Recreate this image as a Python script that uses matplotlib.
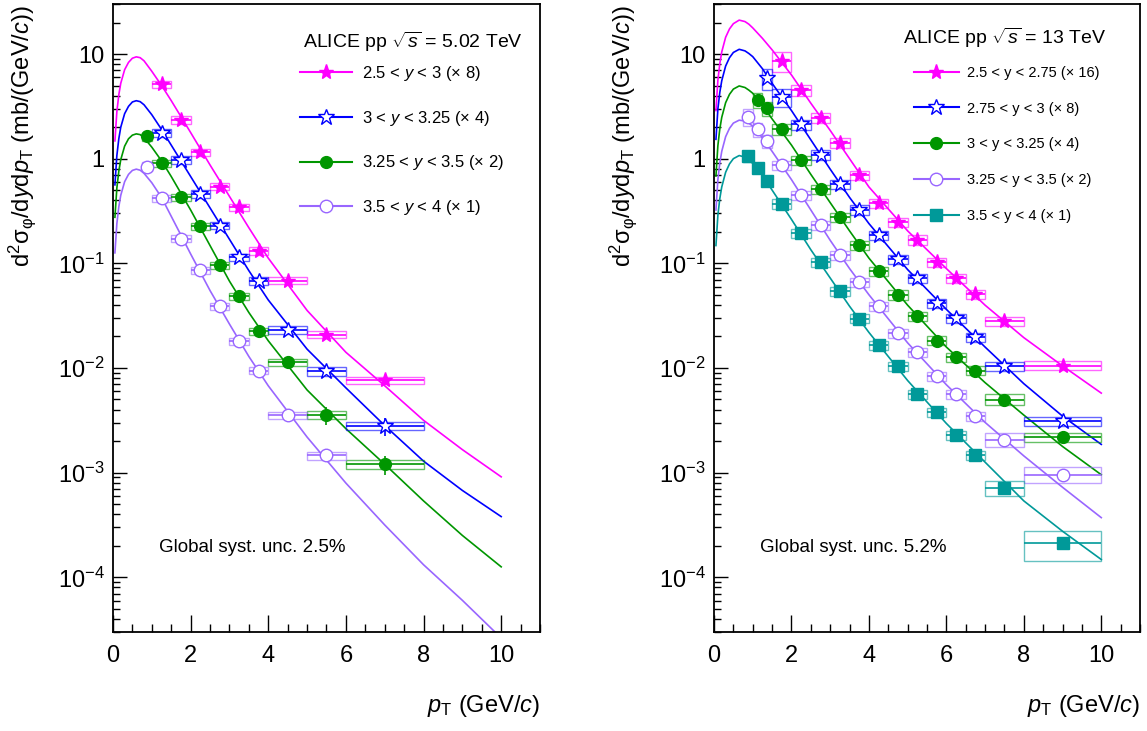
import numpy as np
import matplotlib
matplotlib.use('Agg')
import matplotlib.pyplot as plt
from matplotlib.patches import Rectangle
from matplotlib.lines import Line2D
from matplotlib.ticker import MultipleLocator, FixedLocator, FuncFormatter, NullFormatter

plt.rcParams['font.family'] = ['Liberation Sans', 'DejaVu Sans']
plt.rcParams['mathtext.fontset'] = 'custom'
plt.rcParams['mathtext.rm'] = 'Liberation Sans'
plt.rcParams['mathtext.it'] = 'Liberation Sans:italic'
plt.rcParams['mathtext.bf'] = 'Liberation Sans:bold'

# ---------------- pp 5.02 TeV (already scaled) ----------------
edges_502_hi = [1.0, 1.5, 2.0, 2.5, 3.0, 3.5, 4.0, 5.0, 6.0, 8.0]
edges_502_g = [0.75, 1.0, 1.5, 2.0, 2.5, 3.0, 3.5, 4.0, 5.0, 6.0, 8.0]
edges_502_p = [0.75, 1.0, 1.5, 2.0, 2.5, 3.0, 3.5, 4.0, 5.0, 6.0]

y502_mag = [5.14, 2.35, 1.15, 0.542, 0.344, 0.132, 0.0683, 0.0208, 0.00763]
y502_blue = [1.77, 0.975, 0.461, 0.229, 0.114, 0.0682, 0.0232, 0.0093, 0.00278]
y502_green = [1.63, 0.906, 0.43, 0.225, 0.0955, 0.0483, 0.0224, 0.01134, 0.00354, 0.0012]
y502_purple = [0.84, 0.42, 0.172, 0.0856, 0.0388, 0.018, 0.00944, 0.00354, 0.00146]

stat502_mag = [0.02, 0.02, 0.02, 0.03, 0.03, 0.04, 0.04, 0.06, 0.10]
stat502_blue = [0.03, 0.03, 0.03, 0.04, 0.04, 0.05, 0.06, 0.08, 0.20]
stat502_green = [0.03, 0.03, 0.03, 0.03, 0.04, 0.04, 0.05, 0.06, 0.20, 0.20]
stat502_purple = [0.03, 0.03, 0.03, 0.04, 0.04, 0.05, 0.06, 0.08, 0.12]

syst502_mag = [0.08, 0.08, 0.08, 0.08, 0.08, 0.08, 0.08, 0.08, 0.08]
syst502_blue = [0.08, 0.08, 0.08, 0.08, 0.08, 0.08, 0.09, 0.09, 0.09]
syst502_green = [0.09, 0.08, 0.08, 0.08, 0.08, 0.08, 0.08, 0.08, 0.09, 0.09]
syst502_purple = [0.10, 0.08, 0.08, 0.08, 0.08, 0.08, 0.08, 0.08, 0.09]

# fit curves, log10 values
fitpt_502 = [0.05, 0.1, 0.15, 0.2, 0.3, 0.4, 0.5, 0.6, 0.7, 0.8, 1.0, 1.25, 1.5,
             2.0, 2.5, 3.0, 3.5, 4.0, 5.0, 6.0, 7.0, 8.0, 9.0, 10.0]
fit502_mag = [0.17, 0.45, 0.61, 0.72, 0.85, 0.92, 0.96, 0.973, 0.965, 0.935, 0.835, 0.70, 0.555,
              0.25, -0.06, -0.36, -0.66, -0.95, -1.45, -1.85, -2.17, -2.50, -2.78, -3.04]
fit502_blue = [-0.25, 0.03, 0.19, 0.30, 0.43, 0.50, 0.542, 0.554, 0.545, 0.515, 0.42, 0.28, 0.13,
               -0.17, -0.47, -0.77, -1.07, -1.35, -1.82, -2.19, -2.55, -2.89, -3.17, -3.42]
fit502_green = [-0.56, -0.28, -0.12, -0.01, 0.12, 0.19, 0.225, 0.237, 0.23, 0.20, 0.11, -0.02, -0.17,
                 -0.49, -0.83, -1.17, -1.47, -1.74, -2.21, -2.58, -2.92, -3.27, -3.60, -3.90]
fit502_purple = [-0.90, -0.62, -0.46, -0.35, -0.22, -0.15, -0.112, -0.10, -0.11, -0.14, -0.23, -0.37, -0.55,
                 -0.91, -1.26, -1.58, -1.89, -2.17, -2.66, -3.10, -3.50, -3.88, -4.22, -4.58]

labels_502 = [r'2.5 < $y$ < 3 (× 8)', r'3 < $y$ < 3.25 (× 4)',
              r'3.25 < $y$ < 3.5 (× 2)', r'3.5 < $y$ < 4 (× 1)']

# ---------------- pp 13 TeV (already scaled) ----------------
edges_13_m = [1.5, 2.0, 2.5, 3.0, 3.5, 4.0, 4.5, 5.0, 5.5, 6.0, 6.5, 7.0, 8.0, 10.0]
edges_13_b = [1.25, 1.5, 2.0, 2.5, 3.0, 3.5, 4.0, 4.5, 5.0, 5.5, 6.0, 6.5, 7.0, 8.0, 10.0]
edges_13_g = [1.0, 1.25, 1.5, 2.0, 2.5, 3.0, 3.5, 4.0, 4.5, 5.0, 5.5, 6.0, 6.5, 7.0, 8.0, 10.0]
edges_13_p = [0.75, 1.0, 1.25, 1.5, 2.0, 2.5, 3.0, 3.5, 4.0, 4.5, 5.0, 5.5, 6.0, 6.5, 7.0, 8.0, 10.0]

y13_mag = [8.58, 4.53, 2.47, 1.41, 0.70, 0.376, 0.248, 0.168, 0.102, 0.0724, 0.0509, 0.0279, 0.01054]
y13_blue = [5.86, 3.86, 2.13, 1.09, 0.571, 0.325, 0.185, 0.11, 0.072, 0.0418, 0.030, 0.0196, 0.0104, 0.0031]
y13_green = [3.64, 3.03, 1.91, 0.975, 0.512, 0.277, 0.150, 0.0837, 0.0501, 0.0311, 0.0183, 0.01265,
             0.00944, 0.00499, 0.00218]
y13_purple = [2.52, 1.91, 1.48, 0.873, 0.445, 0.233, 0.119, 0.0657, 0.0388, 0.0216, 0.0142, 0.00834,
              0.00566, 0.00346, 0.00207, 0.00096]
y13_teal = [1.06, 0.812, 0.618, 0.371, 0.195, 0.102, 0.054, 0.0296, 0.0165, 0.0104, 0.00566, 0.00378,
            0.00227, 0.00147, 0.000718, 0.000211]

stat13_mag = [0.03, 0.02, 0.02, 0.02, 0.02, 0.02, 0.02, 0.03, 0.03, 0.03, 0.04, 0.04, 0.06]
stat13_blue = [0.04, 0.03, 0.02, 0.02, 0.02, 0.02, 0.02, 0.03, 0.03, 0.03, 0.04, 0.04, 0.05, 0.08]
stat13_green = [0.03, 0.03, 0.02, 0.02, 0.02, 0.02, 0.02, 0.03, 0.03, 0.03, 0.04, 0.04, 0.05, 0.05, 0.07]
stat13_purple = [0.03, 0.03, 0.02, 0.02, 0.02, 0.02, 0.02, 0.03, 0.03, 0.03, 0.04, 0.04, 0.05, 0.05, 0.06, 0.08]
stat13_teal = [0.03, 0.03, 0.02, 0.02, 0.02, 0.02, 0.02, 0.03, 0.03, 0.03, 0.04, 0.04, 0.05, 0.05, 0.07, 0.10]

syst13_mag = [0.21, 0.12, 0.11, 0.11, 0.10, 0.10, 0.10, 0.10, 0.10, 0.10, 0.10, 0.10, 0.10]
syst13_blue = [0.23, 0.20, 0.11, 0.10, 0.10, 0.10, 0.10, 0.10, 0.10, 0.10, 0.10, 0.10, 0.10, 0.10]
syst13_green = [0.17, 0.15, 0.12, 0.10, 0.10, 0.10, 0.10, 0.10, 0.10, 0.10, 0.10, 0.10, 0.10, 0.12, 0.10]
syst13_purple = [0.18, 0.15, 0.15, 0.10, 0.10, 0.10, 0.10, 0.10, 0.10, 0.10, 0.10, 0.10, 0.10, 0.10, 0.15, 0.17]
syst13_teal = [0.12, 0.10, 0.10, 0.10, 0.10, 0.10, 0.10, 0.10, 0.10, 0.10, 0.10, 0.10, 0.10, 0.10, 0.17, 0.32]

fitpt_13 = [0.05, 0.1, 0.15, 0.2, 0.3, 0.4, 0.5, 0.65, 0.8, 0.9, 1.0, 1.25, 1.5,
            2.0, 2.5, 3.0, 3.5, 4.0, 5.0, 6.0, 7.0, 8.0, 9.0, 10.0]
fit13_mag = [0.46, 0.75, 0.91, 1.02, 1.16, 1.24, 1.29, 1.324, 1.31, 1.285, 1.25, 1.15, 1.04,
             0.80, 0.53, 0.27, 0.0, -0.27, -0.69, -1.05, -1.40, -1.71, -1.98, -2.24]
fit13_blue = [0.185, 0.475, 0.635, 0.745, 0.885, 0.965, 1.015, 1.045, 1.03, 1.005, 0.975, 0.86, 0.72,
              0.46, 0.18, -0.10, -0.37, -0.62, -1.06, -1.44, -1.80, -2.15, -2.46, -2.73]
fit13_green = [-0.165, 0.125, 0.285, 0.395, 0.535, 0.615, 0.665, 0.695, 0.68, 0.655, 0.625, 0.51, 0.38,
               0.13, -0.15, -0.42, -0.69, -0.95, -1.40, -1.80, -2.14, -2.45, -2.75, -3.02]
fit13_purple = [-0.49, -0.20, -0.04, 0.07, 0.21, 0.29, 0.34, 0.368, 0.36, 0.34, 0.31, 0.20, 0.07,
                -0.20, -0.49, -0.78, -1.05, -1.30, -1.76, -2.16, -2.52, -2.84, -3.14, -3.43]
fit13_teal = [-0.83, -0.54, -0.38, -0.27, -0.13, -0.05, 0.0, 0.03, 0.015, -0.01, -0.045, -0.16, -0.30,
              -0.58, -0.87, -1.14, -1.41, -1.66, -2.12, -2.53, -2.90, -3.27, -3.56, -3.83]

labels_13 = ['2.5 < y < 2.75 (× 16)', '2.75 < y < 3 (× 8)', '3 < y < 3.25 (× 4)',
             '3.25 < y < 3.5 (× 2)', '3.5 < y < 4 (× 1)']

# y axis ticks (shared)
ymajor = [1e-4, 1e-3, 1e-2, 1e-1, 1.0, 10.0]

# styles
c_mag, c_blue, c_green, c_purple, c_teal = '#FF00FF', '#0000FF', '#009600', '#9966FF', '#009999'

series_502 = [
    (edges_502_hi, y502_mag, stat502_mag, syst502_mag, fit502_mag, c_mag, '*', True, 11),
    (edges_502_hi, y502_blue, stat502_blue, syst502_blue, fit502_blue, c_blue, '*', False, 12),
    (edges_502_g, y502_green, stat502_green, syst502_green, fit502_green, c_green, 'o', True, 8.5),
    (edges_502_p, y502_purple, stat502_purple, syst502_purple, fit502_purple, c_purple, 'o', False, 9),
]
series_13 = [
    (edges_13_m, y13_mag, stat13_mag, syst13_mag, fit13_mag, c_mag, '*', True, 11),
    (edges_13_b, y13_blue, stat13_blue, syst13_blue, fit13_blue, c_blue, '*', False, 12),
    (edges_13_g, y13_green, stat13_green, syst13_green, fit13_green, c_green, 'o', True, 8.5),
    (edges_13_p, y13_purple, stat13_purple, syst13_purple, fit13_purple, c_purple, 'o', False, 9),
    (edges_13_p, y13_teal, stat13_teal, syst13_teal, fit13_teal, c_teal, 's', True, 8),
]


def ytick_fmt(v, pos):
    e = int(round(np.log10(v)))
    if e == 1:
        return '10'
    if e == 0:
        return '1'
    return r'$10^{%d}$' % e


def draw_panel(ax, series, fitpt, labels, title, glob, leg_x, leg_y, title_x, title_y, lspace, lfs, hpad):
    for edges, vals, stat, syst, fitlog, col, mk, filled, ms in series:
        edges = np.array(edges)
        vals = np.array(vals)
        xc = 0.5 * (edges[1:] + edges[:-1])
        hw = 0.5 * (edges[1:] - edges[:-1])
        ax.plot(fitpt, 10 ** np.array(fitlog), color=col, lw=1.2, zorder=2)
        for x0, w, v, s in zip(edges[:-1], 2 * hw, vals, syst):
            ax.add_patch(Rectangle((x0, v * (1 - s)), w, 2 * s * v, fill=False,
                                   edgecolor=col, lw=1.0, alpha=0.6, zorder=3))
        ax.errorbar(xc, vals, xerr=hw, yerr=vals * np.array(stat), fmt='none',
                    ecolor=col, elinewidth=1.2, capsize=0, zorder=4)
        ax.plot(xc, vals, ls='none', marker=mk, ms=ms, color=col,
                mfc=col if filled else 'white', mec=col, mew=1.0, zorder=5)

    ax.set_yscale('log')
    ax.set_xlim(0, 11)
    ax.set_ylim(3e-5, 30)
    ax.xaxis.set_major_locator(MultipleLocator(2))
    ax.xaxis.set_minor_locator(MultipleLocator(0.5))
    yminor = [k * d for d in [1e-5, 1e-4, 1e-3, 1e-2, 1e-1, 1.0, 10.0] for k in range(2, 10)
              if 3e-5 <= k * d <= 30]
    ax.yaxis.set_major_locator(FixedLocator(ymajor))
    ax.yaxis.set_minor_locator(FixedLocator(yminor))
    ax.yaxis.set_major_formatter(FuncFormatter(ytick_fmt))
    ax.yaxis.set_minor_formatter(NullFormatter())
    ax.tick_params(which='both', direction='in', top=False, right=False, labelsize=17, width=1.0)
    ax.tick_params(axis='x', which='major', length=12, pad=9)
    ax.tick_params(axis='x', which='minor', length=6)
    ax.tick_params(axis='y', which='major', length=10, pad=6)
    ax.tick_params(axis='y', which='minor', length=5)
    for sp in ax.spines.values():
        sp.set_linewidth(1.3)

    ax.set_ylabel(r'$\mathrm{d}^{2}\mathrm{\sigma}_{\mathrm{\varphi}}/\mathrm{d}y\mathrm{d}p_{\mathrm{T}}$ (mb/(GeV/$c$))',
                  fontsize=17, loc='top')
    ax.yaxis.set_label_coords(-0.175, 0.998)
    ax.set_xlabel(r'$p_{\mathrm{T}}$ (GeV/$c$)', fontsize=17, loc='right')
    ax.xaxis.set_label_coords(1.0, -0.097)

    handles = []
    for edges, vals, stat, syst, fitlog, col, mk, filled, ms in series:
        handles.append(Line2D([], [], color=col, lw=1.5, marker=mk, ms=ms,
                              mfc=col if filled else 'white', mec=col, mew=1.0))
    ax.legend(handles, labels, loc='upper left', bbox_to_anchor=(leg_x, leg_y),
              frameon=False, fontsize=lfs, handlelength=3.1, handletextpad=hpad,
              labelspacing=lspace, borderpad=0, borderaxespad=0)
    ax.text(title_x, title_y, title, transform=ax.transAxes, fontsize=14, ha='left', va='center')
    ax.text(0.108, 0.134, glob, transform=ax.transAxes, fontsize=13.5, ha='left', va='center')


fig = plt.figure(figsize=(11.47, 7.31), dpi=100)
ax1 = fig.add_axes([0.0985, 0.1354, 0.3723, 0.859])
ax2 = fig.add_axes([0.6225, 0.1354, 0.3714, 0.859])

draw_panel(ax1, series_502, fitpt_502, labels_502, r'ALICE pp $\sqrt{s}$ = 5.02 TeV',
           'Global syst. unc. 2.5%', 0.438, 0.905, 0.445, 0.940, 1.55, 12, 0.6)
draw_panel(ax2, series_13, fitpt_13, labels_13, r'ALICE pp $\sqrt{s}$ = 13 TeV',
           'Global syst. unc. 5.2%', 0.469, 0.902, 0.444, 0.946, 1.5, 10.5, 0.55)

fig.savefig('out.png', dpi=100)
